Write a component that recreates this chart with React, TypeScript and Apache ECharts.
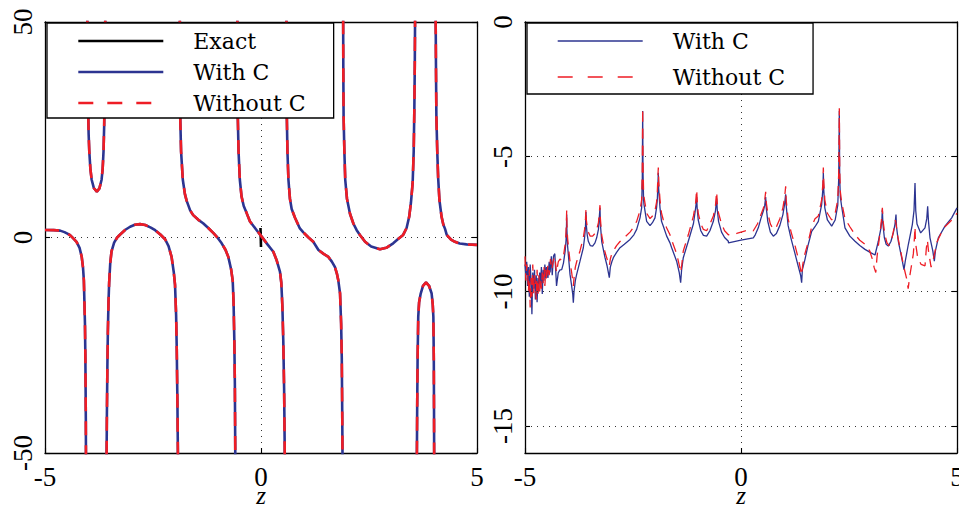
import React, { useEffect, useRef } from "react";
import * as echarts from "echarts";

// Shared tick values
const zTicks = [-5, 0, 5];
const leftYTicks = [-50, 0, 50];
const rightYTicks = [0, -5, -10, -15];

// Approximation branches between the poles (z, value)
const seg1 = [[-5, 1.75], [-4.8, 1.72], [-4.65, 1.6], [-4.55, 1.25], [-4.47, 0.85], [-4.42, 0.55], [-4.35, -0.15], [-4.27, -1.0], [-4.2, -2.4], [-4.15, -4.5], [-4.12, -7], [-4.1, -10], [-4.075, -20], [-4.065, -28], [-4.055, -42], [-4.05, -56]];
const seg2 = [[-4.025, 56], [-4.015, 45], [-4.005, 32], [-3.99, 24], [-3.975, 20], [-3.95, 16], [-3.92, 13.4], [-3.87, 11.5], [-3.8, 10.6], [-3.74, 11.4], [-3.69, 13.4], [-3.665, 16], [-3.645, 20], [-3.63, 26], [-3.617, 36], [-3.607, 48], [-3.6, 56]];
const seg3 = [[-3.578, -56], [-3.568, -42], [-3.556, -30], [-3.545, -22], [-3.53, -15], [-3.515, -10.5], [-3.49, -6], [-3.46, -3.2], [-3.4, -1.2], [-3.33, 0.0], [-3.26, 0.7], [-3.14, 1.8], [-3.03, 2.5], [-2.92, 2.95], [-2.8, 3.1], [-2.68, 2.9], [-2.55, 2.3], [-2.45, 1.7], [-2.33, 0.7], [-2.22, -0.4], [-2.14, -2.0], [-2.07, -4.5], [-2.02, -8], [-1.99, -11], [-1.965, -18], [-1.95, -26], [-1.935, -38], [-1.918, -56]];
const seg4 = [[-1.88, 56], [-1.876, 40], [-1.87, 28], [-1.85, 20], [-1.81, 13.4], [-1.76, 10], [-1.72, 8.5], [-1.64, 6.3], [-1.57, 5.2], [-1.45, 4.1], [-1.34, 3.3], [-1.22, 2.2], [-1.1, 1.0], [-1.0, -0.1], [-0.91, -1.35], [-0.82, -2.9], [-0.757, -4.5], [-0.69, -7.5], [-0.655, -10], [-0.635, -15], [-0.617, -24], [-0.605, -34], [-0.592, -56]];
const seg5 = [[-0.548, 56], [-0.543, 40], [-0.537, 28], [-0.52, 20], [-0.49, 13.4], [-0.45, 9.5], [-0.4, 7.3], [-0.33, 5.6], [-0.255, 3.7], [-0.1, 1.7], [0.015, 0.2], [0.15, -1.6], [0.285, -3.3], [0.36, -5.2], [0.44, -8], [0.47, -10.5], [0.495, -16], [0.516, -24], [0.535, -35], [0.556, -56]];
const seg6 = [[0.588, 56], [0.592, 40], [0.598, 28], [0.612, 20], [0.635, 13.4], [0.67, 9], [0.71, 6.6], [0.787, 4.6], [0.9, 2.1], [0.98, 1.2], [1.1, 0.0], [1.21, -1.0], [1.33, -2.9], [1.45, -3.8], [1.56, -4.5], [1.64, -5.6], [1.71, -6.8], [1.76, -8.5], [1.79, -10], [1.83, -13], [1.855, -20], [1.87, -28], [1.88, -40], [1.89, -56]];
const seg7 = [[1.9, 56], [1.905, 40], [1.912, 28], [1.93, 20], [1.95, 13.4], [1.99, 9], [2.06, 5.5], [2.14, 3.2], [2.215, 1.7], [2.29, 0.6], [2.41, -1], [2.55, -2.1], [2.755, -2.75], [2.9, -2.4], [3.06, -1.35], [3.18, -0.3], [3.29, 0.6], [3.37, 2.2], [3.43, 4.8], [3.47, 8], [3.51, 12.6], [3.535, 20], [3.55, 30], [3.56, 40], [3.57, 56]];
const seg8 = [[3.605, -56], [3.615, -40], [3.625, -28], [3.64, -18.4], [3.66, -15], [3.697, -13], [3.75, -11.2], [3.82, -10.4], [3.89, -11.2], [3.95, -13], [3.975, -15.5], [3.99, -18.4], [4.0, -28], [4.005, -40], [4.01, -56]];
const seg9 = [[4.04, 56], [4.05, 40], [4.06, 28], [4.08, 20], [4.1, 14], [4.13, 8.7], [4.18, 4.8], [4.22, 3], [4.26, 2], [4.3, 0.6], [4.4, -0.5], [4.49, -1], [4.6, -1.4], [4.76, -1.6], [5, -1.7]];
const approxSegments = [seg1, seg2, seg3, seg4, seg5, seg6, seg7, seg8, seg9];

// Exact values near the origin
const exactValues = [[-0.012, 2.2], [0.0, -2.2]];

// Error curves (log10 scale)
const withCError = [
  [-5.0, -9.0], [-4.98, -9.4], [-4.96, -8.9], [-4.94, -9.8], [-4.92, -9.1], [-4.9, -10.2], [-4.88, -9.0], [-4.86, -9.6], [-4.84, -10.85], [-4.82, -9.3],
  [-4.8, -9.9], [-4.78, -9.2], [-4.76, -10.3], [-4.74, -9.4], [-4.72, -10.4], [-4.7, -9.5], [-4.68, -10.0], [-4.66, -9.3], [-4.64, -9.7], [-4.62, -9.1],
  [-4.6, -10.1], [-4.58, -9.2], [-4.56, -9.6], [-4.54, -9.0], [-4.52, -9.5], [-4.5, -9.1], [-4.47, -9.5], [-4.44, -8.9], [-4.42, -9.3], [-4.39, -8.7],
  [-4.37, -9.4], [-4.34, -8.69], [-4.31, -8.6], [-4.27, -9.8], [-4.23, -9.31], [-4.19, -9.2], [-4.15, -9.19], [-4.11, -8.95], [-4.07, -8.5], [-4.05, -8.1],
  [-4.04, -7.6], [-4.035, -7.15], [-4.03, -7.7], [-4.015, -8.3], [-3.997, -8.63], [-3.958, -9.37], [-3.92, -9.8], [-3.895, -10.1], [-3.881, -10.42], [-3.865, -10.0],
  [-3.835, -9.6], [-3.804, -9.37], [-3.727, -8.88], [-3.65, -8.38], [-3.62, -8.0], [-3.6, -7.6], [-3.588, -7.05], [-3.58, -7.55], [-3.56, -7.9], [-3.534, -8.14],
  [-3.49, -8.3], [-3.434, -8.32], [-3.38, -8.2], [-3.341, -8.01], [-3.3, -7.7], [-3.287, -7.4], [-3.264, -6.9], [-3.255, -7.5], [-3.225, -8.14], [-3.18, -8.5],
  [-3.148, -8.75], [-3.1, -9.05], [-3.07, -9.3], [-3.048, -9.49], [-3.025, -9.1], [-2.99, -8.9], [-2.955, -8.75], [-2.88, -8.55], [-2.801, -8.38], [-2.7, -8.25],
  [-2.569, -8.07], [-2.48, -7.9], [-2.415, -7.7], [-2.338, -7.27], [-2.3, -6.9], [-2.285, -5.8], [-2.276, -3.3], [-2.268, -5.6], [-2.255, -6.6], [-2.245, -6.78],
  [-2.184, -7.4], [-2.106, -7.56], [-2.05, -7.45], [-1.991, -7.27], [-1.955, -6.9], [-1.937, -6.6], [-1.925, -6.1], [-1.914, -5.6], [-1.905, -6.2], [-1.875, -6.9],
  [-1.84, -7.4], [-1.798, -7.58], [-1.72, -7.95], [-1.644, -8.2], [-1.605, -8.38], [-1.49, -8.88], [-1.43, -9.3], [-1.397, -9.68], [-1.375, -9.2], [-1.336, -8.75],
  [-1.22, -8.14], [-1.1, -7.48], [-1.05, -6.9], [-1.035, -6.7], [-1.026, -6.5], [-1.015, -6.9], [-0.99, -7.35], [-0.93, -7.75], [-0.87, -7.92], [-0.795, -7.95],
  [-0.72, -7.75], [-0.64, -7.4], [-0.59, -7.0], [-0.575, -6.75], [-0.563, -6.55], [-0.55, -6.95], [-0.52, -7.4], [-0.45, -7.8], [-0.38, -8.0], [-0.293, -8.14],
  [-0.29, -8.2], [0.0, -8.1], [0.285, -8.01], [0.33, -7.9], [0.4, -7.64], [0.46, -7.3], [0.52, -7.0], [0.55, -6.8], [0.571, -6.5], [0.585, -6.9],
  [0.62, -7.4], [0.68, -7.8], [0.748, -7.95], [0.82, -7.85], [0.9, -7.55], [0.97, -7.15], [1.01, -6.75], [1.034, -6.4], [1.045, -6.8], [1.09, -7.55],
  [1.16, -8.05], [1.25, -8.6], [1.33, -9.1], [1.38, -9.4], [1.404, -9.68], [1.42, -9.2], [1.481, -8.81], [1.55, -8.3], [1.636, -7.77], [1.713, -7.6],
  [1.79, -7.4], [1.867, -6.78], [1.895, -6.2], [1.906, -5.6], [1.915, -6.2], [1.94, -6.9], [2.0, -7.35], [2.099, -7.58], [2.18, -7.35], [2.24, -6.8],
  [2.262, -5.8], [2.276, -3.3], [2.285, -5.8], [2.3, -6.5], [2.33, -6.85], [2.407, -7.64], [2.52, -7.95], [2.639, -8.14], [2.75, -8.3], [2.87, -8.44],
  [3.0, -8.56], [3.102, -8.65], [3.14, -8.4], [3.179, -8.14], [3.241, -7.64], [3.262, -7.3], [3.272, -6.96], [3.285, -7.5], [3.318, -8.0], [3.36, -8.25],
  [3.41, -8.32], [3.47, -8.15], [3.526, -7.83], [3.565, -7.5], [3.588, -7.15], [3.6, -7.6], [3.642, -8.14], [3.719, -8.75], [3.773, -9.19], [3.8, -8.9],
  [3.873, -8.26], [3.966, -7.52], [4.005, -7.0], [4.028, -5.98], [4.045, -7.0], [4.074, -7.5], [4.159, -7.83], [4.259, -7.64], [4.3, -7.3], [4.321, -6.84],
  [4.34, -7.4], [4.375, -8.01], [4.44, -8.5], [4.475, -8.88], [4.5, -8.5], [4.568, -8.01], [4.722, -7.58], [4.877, -7.27], [5.0, -6.9],
];

const withoutCError = [
  [-5.0, -8.7], [-4.98, -9.6], [-4.96, -9.0], [-4.94, -9.3], [-4.92, -10.0], [-4.9, -9.2], [-4.88, -10.6], [-4.86, -9.5], [-4.84, -10.2], [-4.82, -9.0],
  [-4.8, -10.1], [-4.78, -9.4], [-4.76, -9.7], [-4.74, -10.3], [-4.72, -9.2], [-4.7, -10.2], [-4.68, -9.4], [-4.66, -10.0], [-4.64, -9.5], [-4.62, -9.9],
  [-4.6, -9.3], [-4.58, -9.7], [-4.56, -9.1], [-4.54, -9.8], [-4.52, -9.2], [-4.5, -9.6], [-4.47, -9.0], [-4.44, -9.4], [-4.41, -8.8], [-4.38, -9.2],
  [-4.35, -8.9], [-4.31, -8.7], [-4.27, -9.3], [-4.23, -8.9], [-4.19, -8.8], [-4.15, -8.85], [-4.11, -8.7], [-4.07, -8.25], [-4.05, -7.8], [-4.04, -7.3],
  [-4.035, -7.0], [-4.03, -7.5], [-4.015, -8.0], [-3.997, -8.3], [-3.958, -8.9], [-3.92, -9.3], [-3.895, -9.6], [-3.881, -9.8], [-3.865, -9.5], [-3.835, -9.1],
  [-3.804, -8.9], [-3.727, -8.5], [-3.65, -8.0], [-3.62, -7.7], [-3.6, -7.3], [-3.588, -6.95], [-3.58, -7.35], [-3.56, -7.6], [-3.534, -7.8], [-3.49, -7.95],
  [-3.434, -7.95], [-3.38, -7.85], [-3.341, -7.7], [-3.3, -7.45], [-3.287, -7.2], [-3.264, -6.8], [-3.255, -7.3], [-3.225, -7.9], [-3.18, -8.3], [-3.148, -8.55],
  [-3.1, -8.8], [-3.07, -9.0], [-3.048, -9.05], [-3.025, -8.8], [-2.99, -8.6], [-2.955, -8.5], [-2.88, -8.3], [-2.801, -8.15], [-2.7, -8.0], [-2.569, -7.8],
  [-2.48, -7.6], [-2.415, -7.4], [-2.338, -7.0], [-2.3, -6.6], [-2.285, -5.5], [-2.276, -3.2], [-2.268, -5.3], [-2.255, -6.3], [-2.245, -6.5], [-2.184, -7.1],
  [-2.106, -7.3], [-2.05, -7.2], [-1.991, -7.0], [-1.955, -6.7], [-1.937, -6.3], [-1.925, -5.8], [-1.914, -5.4], [-1.905, -5.9], [-1.875, -6.6], [-1.84, -7.1],
  [-1.798, -7.35], [-1.72, -7.65], [-1.644, -7.9], [-1.605, -8.1], [-1.49, -8.6], [-1.42, -9.1], [-1.397, -9.3], [-1.37, -9.0], [-1.336, -8.5], [-1.22, -7.9],
  [-1.1, -7.2], [-1.05, -6.7], [-1.035, -6.4], [-1.026, -6.22], [-1.015, -6.6], [-0.99, -7.1], [-0.93, -7.5], [-0.87, -7.7], [-0.795, -7.75], [-0.72, -7.5],
  [-0.64, -7.2], [-0.59, -6.8], [-0.575, -6.5], [-0.563, -6.3], [-0.55, -6.7], [-0.52, -7.1], [-0.45, -7.5], [-0.38, -7.75], [-0.293, -7.9], [-0.1, -7.85],
  [0.1, -7.75], [0.285, -7.75], [0.38, -7.5], [0.45, -7.2], [0.52, -6.9], [0.55, -6.6], [0.571, -6.3], [0.585, -6.7], [0.62, -7.1], [0.68, -7.5],
  [0.748, -7.7], [0.82, -7.6], [0.9, -7.3], [0.97, -6.9], [1.01, -6.5], [1.034, -6.1], [1.045, -6.6], [1.09, -7.3], [1.16, -7.8], [1.25, -8.3],
  [1.33, -8.8], [1.38, -9.2], [1.404, -9.4], [1.43, -9.0], [1.48, -8.6], [1.55, -8.2], [1.636, -7.6], [1.713, -7.3], [1.79, -7.2], [1.867, -6.6],
  [1.895, -6.0], [1.906, -5.4], [1.915, -5.9], [1.94, -6.6], [2.0, -7.1], [2.099, -7.35], [2.18, -7.1], [2.24, -6.6], [2.262, -5.6], [2.276, -3.2],
  [2.285, -5.5], [2.3, -6.3], [2.33, -6.7], [2.407, -7.3], [2.52, -7.6], [2.639, -7.9], [2.75, -8.1], [2.87, -8.25], [2.98, -8.5], [3.04, -8.8],
  [3.08, -9.1], [3.12, -9.3], [3.15, -8.7], [3.18, -8.3], [3.22, -7.8], [3.255, -7.3], [3.272, -6.9], [3.29, -7.4], [3.33, -7.9], [3.38, -8.2],
  [3.43, -8.3], [3.49, -8.05], [3.55, -7.6], [3.575, -7.35], [3.59, -7.5], [3.62, -7.9], [3.67, -8.3], [3.72, -8.7], [3.77, -9.1], [3.83, -9.5],
  [3.87, -9.9], [3.9, -9.5], [3.95, -9.0], [3.99, -8.6], [4.015, -8.0], [4.028, -7.6], [4.04, -8.2], [4.09, -8.75], [4.17, -9.0], [4.26, -9.05],
  [4.29, -8.4], [4.315, -8.1], [4.34, -8.5], [4.4, -9.1], [4.44, -8.9], [4.48, -8.6], [4.54, -8.15], [4.63, -7.85], [4.72, -7.6], [4.85, -7.4],
  [4.95, -7.2], [5.0, -7.1],
];

const BLUE = "#2c3491";
const RED = "#ee1d25";
const SERIF = "'Liberation Serif', 'DejaVu Serif', serif";
const LEGEND_SERIF = "'DejaVu Serif', 'Liberation Serif', serif";

// Concatenate branches with gaps so the line breaks at each pole
function joinSegments(segs: number[][][]) {
  const out: any[] = [];
  segs.forEach((s, i) => {
    if (i > 0) out.push(["-", "-"]);
    s.forEach((p) => out.push(p));
  });
  return out;
}

const boxLine = { show: true, onZero: false, lineStyle: { color: "#000", width: 1.3 } };
const innerTick = { show: true, inside: true, length: 5, lineStyle: { color: "#000", width: 1.1 } };
const dottedStyle = { color: "#333", width: 1, type: [1, 5] as number[] };
const tickFont = { fontFamily: SERIF, fontSize: 27, color: "#000" };
const nameFont = { fontFamily: SERIF, fontStyle: "italic", fontSize: 25, lineHeight: 24, color: "#000" };

function buildOption() {
  const approx = joinSegments(approxSegments);
  const legendCommon = {
    orient: "vertical", selectedMode: false,
    itemWidth: 85, itemHeight: 14,
    backgroundColor: "#fff", borderColor: "#000", borderWidth: 1.3, borderRadius: 0,
    itemStyle: { opacity: 0 },
    textStyle: { fontFamily: LEGEND_SERIF, fontSize: 22, lineHeight: 24, color: "#000", padding: [0, 0, 0, 25] },
  };
  const bottomAxis = (gridIndex: number) => ({
    gridIndex, type: "value", position: "bottom", min: zTicks[0], max: zTicks[2], interval: 5,
    axisLine: boxLine, axisTick: innerTick,
    axisLabel: { ...tickFont, lineHeight: 20, margin: 14 },
    splitLine: { show: true, lineStyle: dottedStyle },
    name: "z", nameLocation: "middle", nameGap: 30, nameMoveOverlap: false, nameTextStyle: nameFont,
  });
  const topAxis = (gridIndex: number) => ({
    gridIndex, type: "value", position: "top", min: zTicks[0], max: zTicks[2], interval: 5,
    axisLine: boxLine, axisTick: innerTick, axisLabel: { show: false }, splitLine: { show: false },
  });
  return {
    animation: false,
    backgroundColor: "#fff",
    grid: [
      { left: 45, top: 22, width: 432, height: 431, outerBoundsMode: "none", containLabel: false },
      { left: 525, top: 22, width: 432, height: 431, outerBoundsMode: "none", containLabel: false },
    ],
    xAxis: [bottomAxis(0), topAxis(0), bottomAxis(1), topAxis(1)],
    yAxis: [
      {
        gridIndex: 0, type: "value", position: "left", min: leftYTicks[0], max: leftYTicks[2], interval: 50,
        axisLine: boxLine, axisTick: innerTick,
        axisLabel: { ...tickFont, rotate: 90, margin: 9 },
        splitLine: { show: true, lineStyle: dottedStyle },
      },
      {
        gridIndex: 0, type: "value", position: "right", min: leftYTicks[0], max: leftYTicks[2], interval: 50,
        axisLine: boxLine, axisTick: innerTick, axisLabel: { show: false }, splitLine: { show: false },
      },
      {
        gridIndex: 1, type: "value", position: "left", min: -16, max: 0,
        axisLine: boxLine,
        axisTick: { ...innerTick, customValues: rightYTicks },
        axisLabel: { ...tickFont, rotate: 90, margin: 9, customValues: rightYTicks },
        splitLine: { show: false },
      },
      {
        gridIndex: 1, type: "value", position: "right", min: -16, max: 0,
        axisLine: boxLine,
        axisTick: { ...innerTick, customValues: rightYTicks },
        axisLabel: { show: false }, splitLine: { show: false },
      },
    ],
    legend: [
      {
        ...legendCommon,
        left: 47, top: 23, itemGap: 7,
        padding: [6, 28, 3, 30],
        data: [
          { name: "Exact" },
          { name: "With C" },
          { name: "Without C", lineStyle: { type: [15, 14] } },
        ],
        lineStyle: { width: 2.6 },
      },
      {
        ...legendCommon,
        left: 527, top: 23, itemGap: 12,
        padding: [6, 28, 5, 30],
        data: [
          { name: "With C" },
          { name: "Without C", lineStyle: { type: [15, 15] } },
        ],
        lineStyle: { width: 1.4 },
      },
    ],
    series: [
      {
        name: "Exact", type: "line", xAxisIndex: 0, yAxisIndex: 0, data: exactValues,
        symbol: "none", lineStyle: { color: "#000", width: 2.6 }, itemStyle: { color: "#000" },
      },
      {
        name: "With C", type: "line", xAxisIndex: 0, yAxisIndex: 0, data: approx,
        symbol: "none", connectNulls: false, lineStyle: { color: BLUE, width: 2.6 }, itemStyle: { color: BLUE },
      },
      {
        name: "Without C", type: "line", xAxisIndex: 0, yAxisIndex: 0, data: approx,
        symbol: "none", connectNulls: false, lineStyle: { color: RED, width: 2.6, type: [14, 10] }, itemStyle: { color: RED },
      },
      {
        type: "line", xAxisIndex: 2, yAxisIndex: 2, data: [], z: 1, silent: true,
        markLine: {
          silent: true, symbol: "none", label: { show: false },
          lineStyle: dottedStyle,
          data: rightYTicks.filter((v) => v !== 0).map((v) => ({ yAxis: v })),
        },
      },
      {
        name: "With C", type: "line", xAxisIndex: 2, yAxisIndex: 2, data: withCError,
        symbol: "none", lineStyle: { color: BLUE, width: 1.3 }, itemStyle: { color: BLUE },
      },
      {
        name: "Without C", type: "line", xAxisIndex: 2, yAxisIndex: 2, data: withoutCError,
        symbol: "none", lineStyle: { color: RED, width: 1.3, type: [10, 7] }, itemStyle: { color: RED },
      },
    ],
  };
}

export default function App() {
  const ref = useRef<HTMLDivElement>(null);
  useEffect(() => {
    if (!ref.current) return;
    const chart = echarts.init(ref.current, undefined, { renderer: "svg" });
    chart.setOption(buildOption() as any);
    return () => chart.dispose();
  }, []);
  return (
    <div
      ref={ref}
      style={{ position: "absolute", left: 0, top: 0, width: 959, height: 508, background: "#fff" }}
    />
  );
}
